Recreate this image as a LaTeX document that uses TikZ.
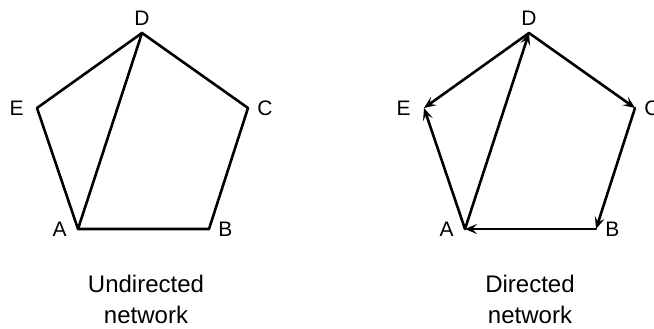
\documentclass[tikz,border=0pt]{standalone}
\usepackage{fontspec}
\setmainfont{Liberation Sans}
\usetikzlibrary{arrows.meta, positioning}
\tikzset{
  every picture/.style={line width=2.6pt},
  vlabel/.style={font=\fontsize{21}{25}\selectfont, inner sep=0pt},
  caption/.style={font=\fontsize{24}{31}\selectfont, align=center, inner sep=0pt, anchor=base},
  edge/.style={draw=black, line cap=round, line join=round},
  arc/.style={edge, -{Stealth[length=12pt, width=10pt, inset=5pt]}},
}

\begin{document}
\begin{tikzpicture}[x=1pt, y=-1pt]
  \useasboundingbox (0,0) rectangle (654,329);
  % undirected network
  \coordinate (uD) at (142,33);
  \coordinate (uE) at (37,108);
  \coordinate (uC) at (248,108);
  \coordinate (uA) at (78,229);
  \coordinate (uB) at (209,229);
  \node[vlabel, above=6pt of uD] (luD) {D};
  \node[vlabel, left=12pt of uE] (luE) {E};
  \node[vlabel, right=8pt of uC] (luC) {C};
  \node[vlabel, left=10pt of uA] (luA) {A};
  \node[vlabel, right=8pt of uB] (luB) {B};
  \draw[edge] (uA) -- (uB) -- (uC) -- (uD) -- (uE) -- cycle;
  \draw[edge] (uA) -- (uD);
  \node[caption] (ucap) at (146,323) {Undirected\\network};
  % directed network
  \coordinate (dD) at (529,33);
  \coordinate (dE) at (424,108);
  \coordinate (dC) at (635,108);
  \coordinate (dA) at (465,229);
  \coordinate (dB) at (596,229);
  \node[vlabel, above=6pt of dD] (ldD) {D};
  \node[vlabel, left=12pt of dE] (ldE) {E};
  \node[vlabel, right=8pt of dC] (ldC) {C};
  \node[vlabel, left=10pt of dA] (ldA) {A};
  \node[vlabel, right=8pt of dB] (ldB) {B};
  \draw[arc] (dD) -- (dE);
  \draw[arc] (dA) -- (dE);
  \draw[arc] (dA) -- (dD);
  \draw[arc] (dD) -- (dC);
  \draw[arc] (dC) -- (dB);
  \draw[arc] (dB) -- (dA);
  \node[caption] (dcap) at (530,323) {Directed\\network};
\end{tikzpicture}
\end{document}
